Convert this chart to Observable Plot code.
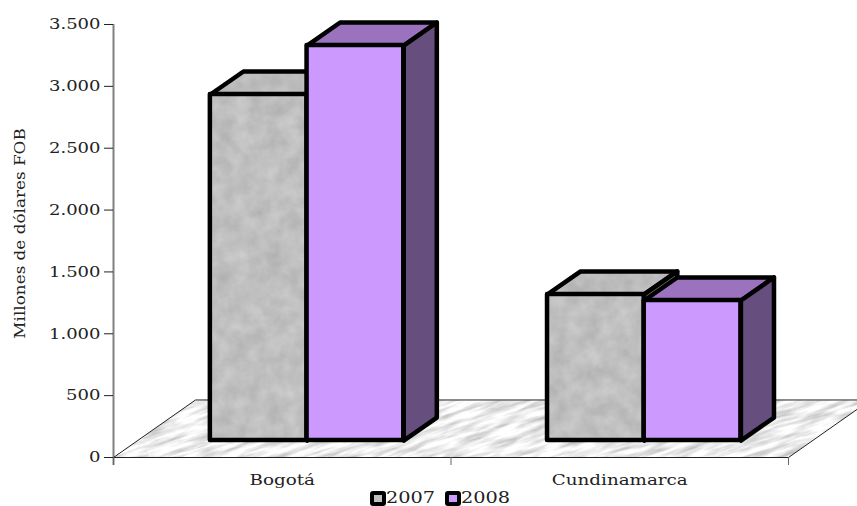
<!DOCTYPE html>
<html>
<head>
<meta charset="utf-8">
<script src="https://cdn.jsdelivr.net/npm/d3@7"></script>
<script src="https://cdn.jsdelivr.net/npm/@observablehq/plot@0.6"></script>
<style>
  html, body { margin: 0; padding: 0; background: #fff; }
  #chart { width: 857px; height: 506px; overflow: hidden; }
  #chart svg { display: block; }
  .legend { display: flex; height: 16px; font: 16.5px "DejaVu Serif", serif; color: #222; padding-left: 370px; align-items: center; line-height: 16px; }
  .legend i { display: inline-block; box-sizing: border-box; width: 16px; height: 15px; border: 4px solid #000; border-radius: 3px; flex: none; }
  .legend span { display: inline-block; width: 59px; transform: scaleX(1.17); transform-origin: left center; }
</style>
</head>
<body>
<div id="chart"></div>
<script>
const categories = ["Bogotá", "Cundinamarca"];
const years = ["2007", "2008"];
const values2007 = [2934, 1318];
const values2008 = [3330, 1269];
const yTicks = [0, 500, 1000, 1500, 2000, 2500, 3000, 3500];

// 3D layout, in data units of the two scales
const barStart = [0.287, 1.286];
const barWidth = 0.2865;
const barBase = 137;
const depthX = 0.098;
const depthY = 186;
const floorDepthX = 0.243;
const floorDepthY = 465;

const INK = "#000";
const faces = {
  "2007": {front: "url(#stone)", top: "url(#stoneTop)", side: "#808080"},
  "2008": {front: "#cc99ff", top: "#9a72bd", side: "#664e7f"}
};

const fmt = d => d3.format(",")(d).replace(/,/g, ".");

function defs() {
  const d = d3.create("svg:defs");
  const addTexture = (id, freq, slope, offset, w, h, rotate) => {
    const f = d.append("filter").attr("id", id + "F").attr("x", 0).attr("y", 0).attr("width", 1).attr("height", 1)
      .attr("color-interpolation-filters", "sRGB");
    f.append("feTurbulence").attr("type", "fractalNoise").attr("baseFrequency", freq).attr("numOctaves", 4).attr("seed", 5);
    const row = `${slope} 0 0 0 ${offset}`;
    f.append("feColorMatrix").attr("type", "matrix").attr("values", `${row} ${row} ${row} 0 0 0 0 1`);
    const p = d.append("pattern").attr("id", id).attr("patternUnits", "userSpaceOnUse").attr("width", w).attr("height", h);
    if (rotate) p.attr("patternTransform", `rotate(${rotate})`);
    p.append("rect").attr("width", w).attr("height", h).attr("filter", `url(#${id}F)`);
  };
  addTexture("stone", "0.06", 0.14, 0.68, 900, 900);
  addTexture("stoneTop", "0.06", 0.14, 0.66, 900, 900);
  addTexture("floor", "0.03 0.22", 0.5, 0.68, 1400, 1400, -18);
  return d.node();
}

const poly = (pts, fill) => Plot.line(pts, {
  x: d => d[0], y: d => d[1], fill, stroke: INK, strokeWidth: 4.5,
  strokeLinejoin: "round", strokeLinecap: "round", curve: "linear"
});

function box(i, x0, v, year) {
  const x1 = x0 + barWidth;
  const c = faces[year];
  return [
    poly([[x0, v], [x0 + depthX, v + depthY], [x1 + depthX, v + depthY], [x1, v], [x0, v]], c.top),
    poly([[x1, v], [x1 + depthX, v + depthY], [x1 + depthX, barBase + depthY], [x1, barBase], [x1, v]], c.side),
    Plot.rect([{x1: x0, x2: x1, y1: barBase, y2: v}], {
      x1: "x1", x2: "x2", y1: "y1", y2: "y2", fill: c.front, stroke: INK, strokeWidth: 4.5, strokeLinejoin: "round"
    })
  ];
}

const bars = categories.flatMap((_, i) => [
  ...box(i, barStart[i], values2007[i], "2007"),
  ...box(i, barStart[i] + barWidth, values2008[i], "2008")
]);

const plot = Plot.plot({
  width: 857,
  height: 490,
  marginLeft: 113,
  marginRight: 69,
  marginTop: 24,
  marginBottom: 33,
  style: {fontFamily: "'DejaVu Serif', serif", fontSize: "15px", color: "#222", background: "#fff"},
  x: {type: "linear", domain: [0, 2], axis: null},
  y: {type: "linear", domain: [0, 3500], axis: null},
  marks: [
    defs,
    Plot.ruleX([0], {y1: -65, y2: 3500, stroke: "#808080", strokeWidth: 2}),
    Plot.line(
      [[0, 0], [2, 0], [2 + floorDepthX, floorDepthY], [floorDepthX, floorDepthY], [0, 0]],
      {x: d => d[0], y: d => d[1], fill: "url(#floor)", stroke: "#222", strokeWidth: 1}
    ),
    Plot.axisY({ticks: yTicks, tickFormat: fmt, tickSize: 9, tickPadding: 4, stroke: "#222", label: null, fontSize: 15}),
    Plot.text(["Millones de dólares FOB"], {
      x: 0, y: 1811, dx: -93, rotate: -90, textAnchor: "middle", fontSize: 14.5, fill: "#222"
    }),
    Plot.axisX({ticks: [0, 1, 2], tickFormat: () => "", tickSize: 8, label: null, stroke: "#666"}),
    Plot.axisX({
      ticks: [0.5, 1.5], tickFormat: d => categories[Math.floor(d)], tickSize: 0, tickPadding: 17, label: null, fontSize: 15
    }),
    ...bars
  ]
});

const root = document.getElementById("chart");
root.append(plot);
const legend = document.createElement("div");
legend.className = "legend";
legend.innerHTML = years.map((y, i) =>
  `<i style="background:${i ? "#cc99ff" : "#c0c0c0"}"></i><span>${y}</span>`).join("");
root.append(legend);

// The reference's typeface is wider than any installed serif: widen the glyphs, keeping their anchors.
plot.querySelectorAll("text").forEach(t => {
  const len = t.getComputedTextLength();
  if (!len) return;
  const s = t.textContent;
  const k = s.startsWith("Millones") ? 1.16 : categories.includes(s) ? 1.22 : 1.2;
  t.setAttribute("textLength", (len * k).toFixed(1));
  t.setAttribute("lengthAdjust", "spacingAndGlyphs");
});
</script>
</body>
</html>
